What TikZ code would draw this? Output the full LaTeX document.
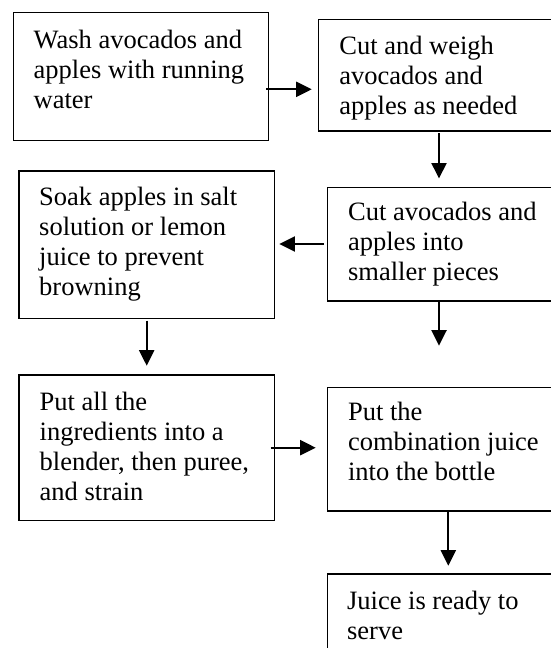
\documentclass[tikz,border=0pt]{standalone}
\usepackage{fontspec}
\setmainfont{Liberation Serif}
\usetikzlibrary{arrows.meta,fit}
\tikzset{
  box/.style={draw=black, line width=0.65pt, inner sep=0pt, rectangle},
  txt/.style={inner sep=0pt, align=left, anchor=base west, font=\fontsize{13.25pt}{15pt}\selectfont},
  arr/.style={line width=1pt, -{Triangle[length=7.75pt, width=7.5pt]}}
}
\begin{document}
\begin{tikzpicture}[x=0.5pt, y=-0.5pt]
\useasboundingbox (0,0) rectangle (551,648);
\clip (0,0) rectangle (551,648);
% boxes
\node[box, fit={(13.3,12.7) (268.3,140.7)}] (b1) {};
\node[box, fit={(318.7,19.3) (620,131)}] (b2) {};
\node[box, fit={(19,171) (274.3,318.3)}] (b3) {};
\node[box, fit={(327.3,187.3) (620,301)}] (b4) {};
\node[box, fit={(19,375) (274.5,520.7)}] (b5) {};
\node[box, fit={(327.3,387.3) (620,511)}] (b6) {};
\node[box, fit={(327.3,574) (620,700)}] (b7) {};
% texts (anchored at the baseline of the last line)
\node[txt] (t1) at (33.3,108) {Wash avocados and\\apples with running\\water};
\node[txt] (t2) at (339,114) {Cut and weigh\\avocados and\\apples as needed};
\node[txt] (t3) at (38.8,295) {Soak apples in salt\\solution or lemon\\juice to prevent\\browning};
\node[txt] (t4) at (347.7,280) {Cut avocados and\\apples into\\smaller pieces};
\node[txt] (t5) at (39.3,500) {Put all the\\ingredients into a\\blender, then puree,\\and strain};
\node[txt] (t6) at (347.7,480) {Put the\\combination juice\\into the bottle};
\node[txt] (t7) at (346.7,639) {Juice is ready to\\serve};
% arrow ends
\coordinate (a1s) at (266,89.3);   \coordinate (a1e) at (311.7,89.3);
\coordinate (a2s) at (439,133);    \coordinate (a2e) at (439,178.5);
\coordinate (a3s) at (324,244);    \coordinate (a3e) at (279.3,244);
\coordinate (a4s) at (146.7,320.7);\coordinate (a4e) at (146.7,365.7);
\coordinate (a5s) at (439,302);    \coordinate (a5e) at (439,345.7);
\coordinate (a6s) at (270.7,447.7);\coordinate (a6e) at (315.7,447.7);
\coordinate (a7s) at (448.3,512);  \coordinate (a7e) at (448.3,565.7);
\draw[arr] (a1s) -- (a1e);
\draw[arr] (a2s) -- (a2e);
\draw[arr] (a3s) -- (a3e);
\draw[arr] (a4s) -- (a4e);
\draw[arr] (a5s) -- (a5e);
\draw[arr] (a6s) -- (a6e);
\draw[arr] (a7s) -- (a7e);
\end{tikzpicture}
\end{document}
